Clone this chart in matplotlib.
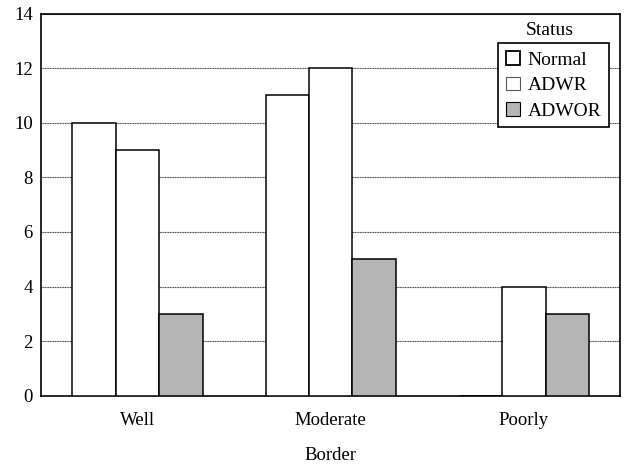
import matplotlib
matplotlib.use('Agg')
import matplotlib.pyplot as plt
import matplotlib.patches as mpatches
import numpy

plt.rcParams['font.family'] = ['Liberation Serif', 'DejaVu Serif']

borders = ['Well', 'Moderate', 'Poorly']
statuses = ['Normal', 'ADWR', 'ADWOR']
normal = [10, 11, 0]
adwr = [9, 12, 4]
adwor = [3, 5, 3]
yTicks = [0, 2, 4, 6, 8, 10, 12, 14]

series = [normal, adwr, adwor]
faces = ['white', 'white', '#b5b5b5']

fig = plt.figure(figsize=(6.26, 4.68), dpi=100)
ax = fig.add_axes([0.0655, 0.1545, 0.9255, 0.8165])

x = numpy.arange(len(borders))
width = 0.225
for i in range(len(series)):
    ax.bar(x + (i - 1) * width, series[i], width, color=faces[i],
           edgecolor='black', linewidth=1.1, zorder=3)

ax.set_xlim(-0.5, 2.5)
ax.set_ylim(0, 14)
ax.set_yticks(yTicks)
ax.set_xticks(x)
ax.set_xticklabels(borders)
ax.tick_params(length=0, labelsize=13.5)
ax.tick_params(axis='y', pad=6)
ax.tick_params(axis='x', pad=12)
ax.yaxis.grid(True, color='#444444', linewidth=0.8, linestyle=(0, (1, 0.5)), zorder=0)
for s in ax.spines.values():
    s.set_linewidth(1.2)
ax.set_xlabel('Border', fontsize=13.5, labelpad=13)

handles = [mpatches.Patch(facecolor='white', edgecolor='black', linewidth=1.3, label=statuses[0]),
           mpatches.Patch(facecolor='white', edgecolor='#555555', linewidth=0.8, label=statuses[1]),
           mpatches.Patch(facecolor='#b5b5b5', edgecolor='black', linewidth=0.8, label=statuses[2])]
leg = ax.legend(handles=handles, loc='upper right', bbox_to_anchor=(0.98, 0.922),
                fontsize=14, fancybox=False, framealpha=1, edgecolor='black',
                handlelength=0.7, handleheight=0.7, handletextpad=0.4,
                borderpad=0.4, labelspacing=0.4, borderaxespad=0)
leg.get_frame().set_linewidth(1.2)
leg.set_zorder(5)
ax.text(0.878, 0.957, 'Status', transform=ax.transAxes, ha='center', va='center',
        fontsize=14, zorder=6)

plt.savefig('out.png', dpi=100)
